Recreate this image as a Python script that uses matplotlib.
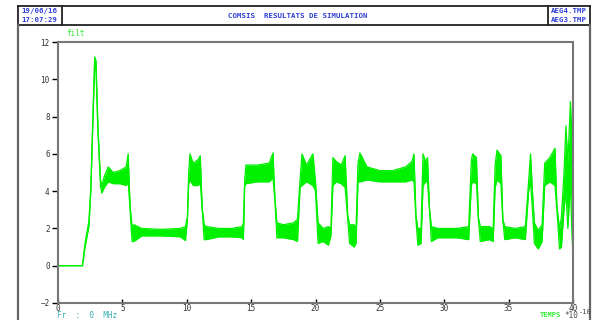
import numpy as np
import matplotlib.pyplot as plt
from matplotlib.lines import Line2D

# time (x 1e-10 s) and the low / high edge of the noisy band
t = [0, 1.9, 2.1, 2.4, 2.55, 2.7, 2.85, 2.95, 3.1, 3.3, 3.4, 3.6, 3.9, 4.3, 4.8, 5.3, 5.45,
     5.6, 5.75, 5.9, 6.5, 8.0, 9.5, 9.9, 10.05, 10.15, 10.25, 10.5, 10.9, 11.05, 11.2,
     11.35, 11.5, 12.5, 13.5, 14.3, 14.4, 14.5, 14.6, 15.5, 16.4, 16.7, 16.85, 17.0,
     17.5, 18.3, 18.6, 18.8, 18.95, 19.3, 19.8, 20.0, 20.2, 20.6, 21.0, 21.2, 21.35,
     21.6, 22.0, 22.3, 22.5, 22.65, 23.0, 23.15, 23.3, 23.45, 24.0, 25.0, 26.0, 27.0,
     27.5, 27.65, 27.8, 27.95, 28.2, 28.35, 28.55, 28.7, 28.85, 29.0, 29.5, 31.0, 31.9,
     32.1, 32.2, 32.5, 32.65, 32.8, 33.5, 33.8, 33.95, 34.1, 34.4, 34.55, 34.7, 35.5,
     36.3, 36.55, 36.7, 36.85, 37.0, 37.3, 37.6, 37.8, 38.2, 38.6, 38.75, 38.95, 39.1,
     39.3, 39.45, 39.6, 39.8, 39.9, 40.0]
lo = [0, 0, 1.0, 2.1, 4.0, 7.5, 10.8, 10.5, 7.2, 4.3, 3.9, 4.2, 4.5, 4.4, 4.4, 4.3, 4.5,
      3.0, 1.3, 1.3, 1.6, 1.6, 1.55, 1.35, 2.5, 4.4, 4.6, 4.3, 4.3, 4.5, 3.0,
      1.4, 1.4, 1.55, 1.55, 1.5, 1.4, 4.3, 4.4, 4.5, 4.5, 4.7, 3.5, 1.5,
      1.5, 1.4, 1.3, 4.2, 4.3, 4.5, 4.3, 4.0, 1.2, 1.3, 1.1, 1.6, 4.3,
      4.5, 4.4, 4.2, 2.5, 1.2, 1.0, 1.2, 4.5, 4.5, 4.6, 4.5, 4.5, 4.5,
      4.6, 4.5, 2.5, 1.1, 1.2, 4.3, 4.5, 4.5, 3.0, 1.3, 1.5, 1.5, 1.4,
      4.3, 4.5, 4.4, 2.5, 1.3, 1.4, 1.3, 4.2, 4.6, 4.4, 2.4, 1.4, 1.5,
      1.4, 4.0, 4.5, 3.0, 1.2, 0.9, 1.3, 4.3, 4.5, 4.3, 3.0, 0.9, 1.0,
      3.0, 4.0, 2.0, 4.5, 2.0, 0.5]
hi = [0, 0, 1.2, 2.4, 4.2, 7.8, 11.2, 11.0, 7.5, 4.6, 4.3, 4.8, 5.3, 5.0, 5.1, 5.3, 6.0,
      3.2, 2.1, 2.2, 2.0, 1.95, 2.0, 2.1, 2.6, 5.0, 6.0, 5.5, 5.7, 5.9, 3.1,
      2.2, 2.1, 2.0, 2.0, 2.1, 2.3, 4.6, 5.4, 5.4, 5.5, 6.05, 3.6, 2.3,
      2.2, 2.3, 2.5, 4.6, 6.0, 5.4, 6.0, 4.5, 2.3, 2.0, 2.1, 2.0, 5.8,
      5.6, 5.4, 5.9, 2.7, 2.2, 2.2, 2.0, 5.5, 6.05, 5.3, 5.1, 5.1, 5.3,
      5.6, 6.0, 2.7, 2.0, 2.0, 6.0, 5.6, 5.8, 3.1, 2.1, 2.0, 2.0, 2.1,
      5.6, 6.0, 5.8, 2.6, 2.1, 2.1, 2.0, 5.4, 6.2, 5.9, 2.5, 2.1, 2.0,
      2.1, 4.5, 6.0, 4.0, 2.3, 1.9, 2.2, 5.5, 5.8, 6.3, 3.2, 2.0, 2.6,
      5.0, 7.5, 5.5, 8.8, 7.0, 1.0]

xticks = [0, 5, 10, 15, 20, 25, 30, 35, 40]
yticks = [-2, 0, 2, 4, 6, 8, 10, 12]

W, H = 595, 320
fig = plt.figure(figsize=(W / 100, H / 100), dpi=100)

def fx(px):
    return px / W

def fy(py):
    return 1 - py / H

blue = '#2f3fd6'
green = '#00f000'
mono = 'DejaVu Sans Mono'

# outer frame and header box
frame = [((18, 18), (6, 320)), ((590, 590), (6, 320)), ((18, 590), (6, 6)),
         ((18, 590), (25, 25)), ((62, 62), (6, 25)), ((548, 548), (6, 25))]
for xs, ys in frame:
    fig.add_artist(Line2D([fx(xs[0]), fx(xs[1])], [fy(ys[0]), fy(ys[1])],
                          color='#222222', lw=1.3))
fig.add_artist(Line2D([fx(18), fx(18)], [fy(25), fy(320)], color='#666666', lw=1.6))
fig.add_artist(Line2D([fx(590), fx(590)], [fy(25), fy(320)], color='#666666', lw=1.6))

fig.text(fx(21), fy(11), '19/06/16', color=blue, fontsize=5.3, family=mono,
         weight='bold', va='center')
fig.text(fx(21), fy(20), '17:07:29', color=blue, fontsize=5.3, family=mono,
         weight='bold', va='center')
fig.text(fx(298), fy(16), 'COMSIS  RESULTATS DE SIMULATION', color=blue, fontsize=5.3,
         family=mono, weight='bold', ha='center', va='center')
fig.text(fx(551), fy(11), 'AEG4.TMP', color=blue, fontsize=5.3, family=mono,
         weight='bold', va='center')
fig.text(fx(551), fy(20), 'AEG3.TMP', color=blue, fontsize=5.3, family=mono,
         weight='bold', va='center')
# title above the frame, cut off by the top edge in the reference
fig.text(fx(274), fy(4.5), 'T', color='black', fontsize=14, weight='bold',
         ha='center', va='bottom')

ax = fig.add_axes([fx(58), fy(303), fx(573) - fx(58), fy(42) - fy(303)])
ax.fill_between(t, lo, hi, color=green, lw=0)
ax.plot(t, lo, color=green, lw=0.9)
ax.plot(t, hi, color=green, lw=0.9)

ax.set_xlim(0, 40)
ax.set_ylim(-2, 12)
ax.set_xticks(xticks)
ax.set_yticks(yticks)
ax.tick_params(axis='x', direction='in', length=3, width=1, pad=0.5, labelsize=5.5,
               labelcolor='#333333')
ax.tick_params(axis='y', direction='out', length=4, width=1, pad=2, labelsize=5.5,
               labelcolor='#333333')
for lab in ax.get_xticklabels() + ax.get_yticklabels():
    lab.set_family(mono)
for sp in ax.spines.values():
    sp.set_color('#777777')
    sp.set_linewidth(1.5)

fig.text(fx(66), fy(33), 'filt', color='#33ee33', fontsize=5.5, family=mono, va='center')
fig.text(fx(57), fy(315), 'Fr  :  0  MHz', color='#3ab0b0', fontsize=5.5, family=mono,
         va='center')
fig.text(fx(540), fy(315), 'TEMPS', color='#33ee33', fontsize=5.0, family=mono,
         weight='bold', va='center')
fig.text(fx(564), fy(315), '*10', color='#444444', fontsize=5.5, family=mono, va='center')
fig.text(fx(579), fy(312), '-10', color='#444444', fontsize=5.0, family=mono, va='center')

fig.savefig('out.png', dpi=100)
